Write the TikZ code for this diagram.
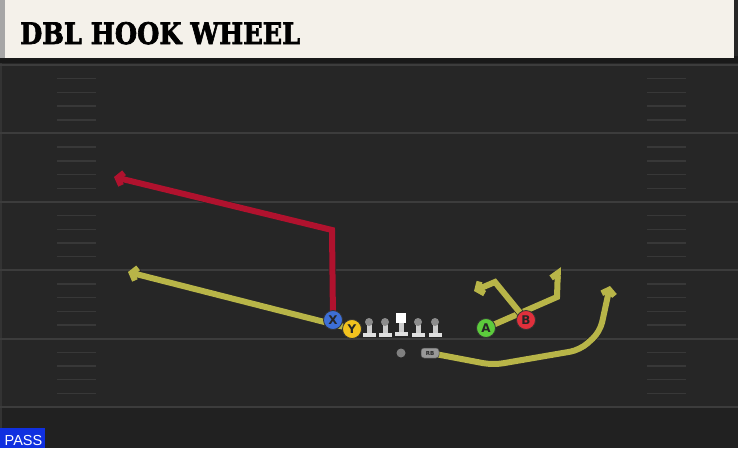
\documentclass[tikz,border=0pt]{standalone}
\usepackage{fontspec}
\setmainfont{DejaVu Serif}
\newfontfamily\titlefont[FakeBold=2.5]{DejaVu Serif}
\newfontfamily\passfont{Liberation Sans}
\newfontfamily\labelfont{DejaVu Sans}
\usetikzlibrary{arrows.meta}
\definecolor{field}{HTML}{262626}
\definecolor{fieldlow}{HTML}{212121}
\definecolor{cream}{HTML}{F4F1EA}
\definecolor{yardc}{HTML}{3C3C3C}
\definecolor{hashc}{HTML}{383838}
\definecolor{routeyel}{HTML}{B8B548}
\definecolor{routered}{HTML}{B0122E}
\definecolor{xblue}{HTML}{3D6FD6}
\definecolor{yyel}{HTML}{F2C21E}
\definecolor{agreen}{HTML}{5CCB3C}
\definecolor{bred}{HTML}{E0303C}
\definecolor{passblue}{HTML}{1030E0}
\tikzset{
  yardline/.style={draw=yardc, line width=2pt},
  hashline/.style={draw=hashc, line width=1.4pt},
  route/.style={draw=#1, line width=6pt, line join=miter,
    preaction={draw=black!85, line width=7.5pt}},
  tipfull/.style={-{Straight Barb[length=5pt,width=13pt]}},
  tiphalf/.style={-{Straight Barb[left,length=5pt,width=13pt]}},
  player/.style={circle, draw=black!80, line width=0.8pt, fill=#1, minimum size=19pt, inner sep=0pt,
    font=\labelfont\bfseries\fontsize{12}{12}\selectfont, text=black!85},
}
\begin{document}
\begin{tikzpicture}[x=1pt,y=-1pt]
\useasboundingbox (0,0) rectangle (738,448);
% field
\fill[field] (0,0) rectangle (738,448);
\fill[fieldlow] (0,407) rectangle (738,448);
\fill[black!80!white] (0,0) rectangle (1.5,448);
% header
\fill[black!90] (0,56) rectangle (738,63);
\fill[cream] (0,0) rectangle (734,58);
\fill[black!35] (0,0) rectangle (5,58);
\node[anchor=base west, inner sep=0pt] (title) at (20,44)
  {\resizebox{280pt}{22pt}{\titlefont\bfseries DBL HOOK WHEEL}};
% yard lines
\foreach \yy in {65,133.4,201.8,270.2,338.6,407} {
  \draw[yardline] (0,\yy) -- (738,\yy);
}
\foreach \b in {65,133.4,201.8,270.2,338.6} {
  \foreach \k in {1,2,3,4} {
    \draw[hashline] (57,\b+13.7*\k) -- (96,\b+13.7*\k);
    \draw[hashline] (647,\b+13.7*\k) -- (686,\b+13.7*\k);
  }
}
% route coordinates
\coordinate (xbend) at (332,230);
\coordinate (xend) at (114,177);
\coordinate (yend) at (128,272);
\coordinate (abend) at (557,297);
\coordinate (aend) at (558,267);
\coordinate (bbend) at (495,282);
\coordinate (bend) at (474,291);
\coordinate (rb1) at (493,365);
\coordinate (rb2) at (580,350);
\coordinate (rb3) at (600,332);
\coordinate (rbend) at (610,286);
% player positions
\coordinate (Xc) at (333,320);
\coordinate (Yc) at (352,329);
\coordinate (Ac) at (486,328);
\coordinate (Bc) at (526,320);
\coordinate (RBc) at (430,353);
% routes
\draw[route=routered, tipfull] (Xc) -- (xbend) -- (xend);
\draw[route=routeyel, tipfull] (Yc) -- (yend);
\draw[route=routeyel, tiphalf] (Ac) -- (abend) -- (aend);
\draw[route=routeyel, tipfull] (Bc) -- (bbend) -- (bend);
\draw[route=routeyel, tipfull, rounded corners=10pt] (RBc) -- (rb1) -- (rb2) -- (rb3) -- (rbend);
% linemen
\foreach \lx/\nm in {369/lt,385/lg,418/rg,435/rt} {
  \fill[black!20] (\lx-2.5,322) rectangle (\lx+2.5,334);
  \fill[black!12] (\lx-6.5,332.5) rectangle (\lx+6.5,337);
  \node[circle, fill=black!45, minimum size=8pt, inner sep=0pt] (\nm) at (\lx,322) {};
}
\fill[black!20] (398.5,321) rectangle (403.5,333);
\fill[black!12] (394.5,331.5) rectangle (407.5,336);
\node[rectangle, fill=white, minimum size=10pt, inner sep=0pt] (center) at (401,318) {};
% QB
\node[circle, fill=black!50, minimum size=9pt, inner sep=0pt] (qb) at (401,353) {};
% RB
\node[rectangle, rounded corners=3pt, fill=black!40, draw=black!70, line width=0.5pt,
  minimum width=18pt, minimum height=10pt, inner sep=0pt,
  font=\labelfont\bfseries\fontsize{5.5}{5.5}\selectfont, text=black!85] (rb) at (RBc) {RB};
% receivers
\node[player=xblue] (x) at (Xc) {X};
\node[player=yyel] (y) at (Yc) {Y};
\node[player=agreen] (a) at (Ac) {A};
\node[player=bred] (b) at (Bc) {B};
% pass label
\fill[passblue] (0,428) rectangle (45,448);
\node[anchor=base west, inner sep=0pt, text=white, font=\passfont\fontsize{14.5}{14.5}\selectfont] (pass) at (4.5,445.5) {PASS};
\end{tikzpicture}
\end{document}
